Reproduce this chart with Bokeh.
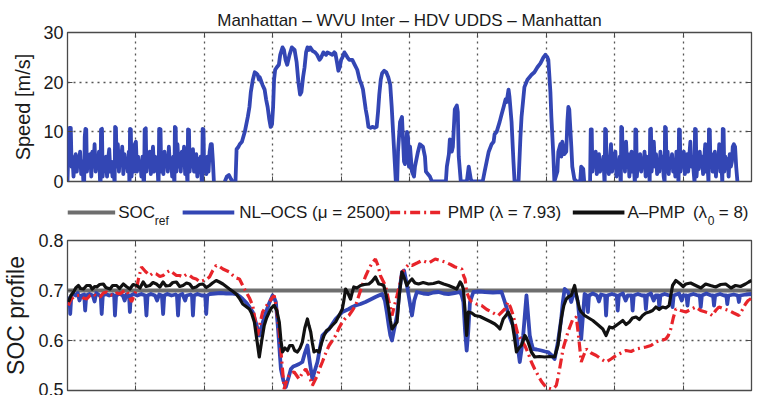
from bokeh.plotting import figure
from bokeh.models import Range1d, FixedTicker, LinearAxis
from bokeh.layouts import column
from bokeh.embed import file_html
from bokeh.resources import INLINE
from bokeh.core.properties import value

FONT = "Liberation Sans"

# ---------------- data ----------------
title_text = "Manhattan – WVU Inter – HDV UDDS – Manhattan"
x_ticks = [0, 500, 1000, 1500, 2000, 2500, 3000, 3500, 4000, 4500, 5000]
speed_ticks = [0, 10, 20, 30]
soc_ticks = [0.5, 0.6, 0.7, 0.8]
soc_ref_value = 0.7

# speed profile (time [s], speed [m/s]) by drive-cycle segment
speed_manhattan1 = [
    (0, 0), (6, 6), (14, 10.8), (24, 10.8), (30, 3), (36, 5), (44, 1), (52, 4), (60, 5.5), (68, 2), (76, 5),
    (84, 3.5), (92, 6), (100, 1.5), (108, 4), (116, 0),
    (122, 0), (126, 9), (131, 10.6), (137, 10.5), (142, 2), (150, 4.5), (158, 3), (166, 5.5), (174, 1), (182, 6),
    (190, 3), (198, 7.5), (206, 2), (214, 5), (222, 3), (230, 6), (238, 0),
    (242, 0), (245, 10.5), (252, 10.6), (257, 1), (265, 4), (273, 2.5), (281, 5), (289, 1), (297, 4.5), (305, 6.5),
    (313, 2), (321, 4), (329, 1), (337, 3.5), (343, 0),
    (345, 0), (348, 11), (354, 10.8), (360, 3), (368, 7.5), (376, 2), (384, 6), (392, 4), (400, 7), (408, 1.5),
    (416, 5.5), (424, 3), (432, 4.5), (440, 2), (448, 6), (452, 0),
    (454, 0), (457, 10.6), (463, 10.5), (468, 1), (476, 4), (484, 2), (492, 7.5), (500, 8), (508, 2), (516, 5),
    (524, 3), (532, 4), (540, 1), (548, 5), (556, 0),
    (560, 0), (564, 10.5), (572, 10.7), (577, 2), (585, 5), (593, 3), (601, 6), (609, 1.5), (617, 4.5), (625, 7),
    (633, 2), (641, 5), (649, 3), (657, 4), (663, 0),
    (666, 0), (670, 10.6), (680, 10.5), (685, 2), (693, 5), (701, 1.5), (709, 6), (717, 3.5), (725, 5), (733, 2),
    (741, 7), (749, 3), (757, 4.5), (765, 1), (773, 5), (780, 0),
    (782, 0), (785, 11), (791, 10.8), (796, 2), (804, 7.5), (812, 3), (820, 5.5), (828, 2), (836, 6), (844, 3.5),
    (852, 7), (860, 1.5), (868, 4), (876, 0),
    (878, 0), (881, 10.5), (888, 10.4), (893, 2), (901, 5), (909, 3), (917, 6.5), (925, 2), (933, 4), (941, 5.5),
    (949, 1), (957, 4.5), (965, 3), (973, 5), (981, 0),
    (984, 0), (988, 10.6), (994, 10.5), (999, 2), (1007, 4), (1015, 1.5), (1023, 5), (1031, 2), (1039, 6),
    (1047, 7.5), (1055, 7.5), (1063, 4), (1070, 0),
]
speed_wvu_inter = [
    (1150, 0), (1165, 1), (1180, 1.3), (1195, 0.5), (1205, 0), (1228, 0), (1236, 6.5), (1250, 7), (1259, 7.5),
    (1275, 8), (1296, 10), (1318, 13), (1330, 15), (1340, 18), (1355, 20.5), (1369, 22), (1380, 21.8), (1390, 21.5),
    (1400, 20.5), (1405, 21), (1412, 20.5), (1425, 19.5), (1441, 18.5), (1452, 16.5), (1463, 15), (1475, 12.5),
    (1485, 11), (1495, 11.5), (1503, 15), (1510, 20.5), (1518, 22.5), (1530, 23), (1545, 23.5), (1555, 25.5),
    (1572, 27), (1582, 26.5), (1594, 24.5), (1606, 23.5), (1623, 25.5), (1640, 27), (1660, 26.5), (1675, 24),
    (1688, 20), (1700, 17.5), (1710, 18), (1722, 21), (1733, 23), (1744, 26), (1754, 27), (1765, 26.5), (1775, 27),
    (1791, 26.3), (1810, 26), (1825, 25.5), (1842, 24.5), (1855, 25), (1870, 26), (1878, 25.8), (1890, 25.5),
    (1900, 26), (1915, 25.8), (1936, 25.5), (1950, 26), (1958, 25.8), (1970, 24), (1980, 22.3), (1990, 23),
    (2000, 24.5), (2010, 25), (2024, 26), (2035, 25.5), (2046, 25), (2060, 24.5), (2082, 24.5), (2100, 23.5),
    (2118, 22.5), (2135, 20.5), (2150, 19.5), (2160, 18.5), (2170, 16.5), (2180, 14.5), (2190, 13), (2200, 11),
    (2215, 10.8), (2228, 11), (2245, 10.8), (2260, 11), (2270, 14), (2279, 17.5), (2290, 20.5), (2300, 21.8),
    (2315, 22.3), (2330, 22), (2345, 21), (2359, 19.5), (2370, 15), (2380, 10), (2392, 4), (2400, 0),
]
speed_hdv_udds = [
    (2410, 0), (2416, 6), (2431, 12), (2445, 13), (2460, 4), (2467, 3.5), (2482, 10), (2489, 9), (2496, 3),
    (2504, 7), (2518, 2), (2533, 1), (2540, 3), (2562, 6), (2576, 7.5), (2598, 7), (2613, 5), (2620, 2),
    (2649, 1), (2664, 0), (2766, 0), (2773, 3), (2788, 5.5), (2795, 8.5), (2809, 6), (2817, 7), (2831, 14.5),
    (2846, 15.3), (2853, 14), (2860, 5), (2875, 0), (2919, 0), (2933, 3), (2948, 0.5), (2955, 0), (3035, 0),
    (3049, 2), (3064, 4), (3079, 6), (3100, 7.5), (3115, 8), (3122, 9.5), (3137, 10), (3159, 12), (3173, 13.5),
    (3188, 15), (3202, 16.5), (3210, 16), (3224, 18.5), (3231, 17), (3246, 12), (3260, 4), (3268, 0), (3297, 0),
    (3311, 9), (3319, 13), (3333, 17), (3340, 19), (3362, 20.5), (3392, 21.5), (3413, 22), (3435, 23),
    (3457, 23.8), (3479, 25), (3493, 25.5), (3508, 25), (3515, 24.5), (3530, 18), (3537, 13), (3552, 5),
    (3559, 0), (3581, 2), (3588, 6), (3603, 7.5), (3610, 5), (3617, 8), (3632, 5.5), (3646, 6), (3654, 12),
    (3661, 15), (3668, 14.5), (3683, 7), (3690, 3), (3705, 0.5), (3719, 0), (3748, 0), (3755, 3), (3770, 2.5),
    (3777, 0),
]
speed_manhattan2 = [
    (3820, 0), (3825, 10.5), (3832, 10.5), (3837, 2), (3845, 5), (3853, 3), (3861, 6), (3869, 1.5), (3877, 4.5),
    (3885, 5.5), (3893, 2), (3901, 4), (3909, 3), (3917, 5), (3925, 0),
    (3927, 0), (3930, 10.6), (3936, 10.4), (3941, 2), (3949, 5), (3957, 1.5), (3965, 4.5), (3973, 7.5), (3981, 2),
    (3989, 5.5), (3997, 3), (4005, 6), (4013, 1), (4021, 4), (4029, 3), (4037, 5), (4043, 0),
    (4045, 0), (4048, 11), (4054, 10.8), (4059, 3), (4067, 5), (4075, 2), (4083, 8), (4091, 3), (4099, 5.5),
    (4107, 1), (4115, 4), (4123, 6), (4131, 2), (4139, 4.5), (4146, 0),
    (4148, 0), (4151, 10.5), (4157, 10.4), (4162, 1), (4170, 4), (4178, 2.5), (4186, 5.5), (4194, 2), (4202, 4.5),
    (4210, 3), (4218, 6), (4226, 1), (4234, 5), (4242, 3), (4250, 4), (4255, 0),
    (4256, 0), (4259, 10.5), (4265, 10.6), (4270, 2), (4278, 5), (4286, 8), (4294, 3), (4302, 5.5), (4310, 1.5),
    (4318, 4), (4326, 2), (4334, 6), (4342, 3), (4350, 5), (4358, 1), (4364, 0),
    (4365, 0), (4368, 11), (4374, 10.8), (4379, 2), (4387, 6), (4395, 1.5), (4403, 4.5), (4411, 3), (4419, 5.5),
    (4427, 2), (4435, 4), (4443, 1), (4451, 6), (4459, 3), (4466, 0),
    (4467, 0), (4470, 10.5), (4476, 10.4), (4481, 2), (4489, 5), (4497, 3), (4505, 6), (4513, 1.5), (4521, 4),
    (4529, 5.5), (4537, 2), (4545, 5), (4553, 8), (4561, 3), (4569, 5), (4577, 2), (4583, 0),
    (4584, 0), (4587, 10.6), (4593, 10.5), (4598, 1), (4606, 4), (4614, 2.5), (4622, 6), (4630, 3), (4638, 5),
    (4646, 1.5), (4654, 4.5), (4662, 7.5), (4670, 2), (4678, 4), (4685, 0),
    (4686, 0), (4689, 10.5), (4695, 10.4), (4700, 3), (4708, 5.5), (4716, 2), (4724, 4.5), (4732, 6), (4740, 1),
    (4748, 5), (4756, 3), (4764, 7.5), (4772, 2), (4780, 4), (4786, 0),
    (4787, 0), (4790, 10.6), (4796, 10.5), (4801, 2), (4809, 5), (4817, 3), (4825, 4.5), (4833, 1), (4841, 5.5),
    (4849, 3), (4857, 4), (4863, 7), (4871, 7.5), (4880, 7), (4888, 3), (4897, 0),
]

# SOC profiles (time [s], SOC [-])
soc_nlocs = [
    (7, 0.667), (15, 0.685), (20, 0.653), (28, 0.69), (45, 0.693), (60, 0.69), (75, 0.695), (88, 0.68),
    (100, 0.69), (122, 0.692), (129, 0.66), (137, 0.69), (160, 0.693), (185, 0.69), (198, 0.678), (210, 0.695),
    (235, 0.69), (243, 0.688), (250, 0.653), (258, 0.69), (280, 0.693), (305, 0.69), (330, 0.692), (341, 0.69),
    (347, 0.65), (355, 0.69), (380, 0.694), (405, 0.69), (418, 0.68), (430, 0.692), (450, 0.69), (456, 0.657),
    (463, 0.69), (485, 0.693), (510, 0.69), (540, 0.693), (568, 0.69), (577, 0.65), (585, 0.69), (610, 0.693),
    (640, 0.69), (655, 0.68), (670, 0.692), (690, 0.69), (699, 0.653), (707, 0.69), (730, 0.693), (760, 0.69),
    (790, 0.692), (800, 0.69), (808, 0.65), (816, 0.69), (840, 0.693), (860, 0.68), (870, 0.69), (900, 0.692),
    (910, 0.69), (917, 0.65), (925, 0.69), (950, 0.693), (980, 0.69), (1007, 0.69), (1014, 0.653), (1022, 0.69),
    (1040, 0.693), (1080, 0.694), (1120, 0.695), (1160, 0.694), (1200, 0.694), (1240, 0.692), (1260, 0.688),
    (1281, 0.683), (1310, 0.675), (1330, 0.667), (1354, 0.657), (1378, 0.635), (1402, 0.61), (1426, 0.635),
    (1451, 0.657), (1475, 0.675), (1499, 0.69), (1511, 0.685), (1523, 0.677), (1540, 0.62), (1560, 0.543),
    (1578, 0.52), (1596, 0.507), (1615, 0.525), (1633, 0.543), (1650, 0.548), (1669, 0.55), (1693, 0.553),
    (1717, 0.557), (1735, 0.575), (1754, 0.59), (1772, 0.555), (1790, 0.523), (1808, 0.54), (1827, 0.557),
    (1845, 0.585), (1863, 0.61), (1888, 0.617), (1912, 0.623), (1936, 0.633), (1960, 0.643), (1985, 0.65),
    (2009, 0.657), (2033, 0.66), (2057, 0.663), (2082, 0.667), (2106, 0.67), (2142, 0.673), (2178, 0.677),
    (2215, 0.682), (2251, 0.687), (2275, 0.69), (2300, 0.693), (2320, 0.68), (2335, 0.655), (2348, 0.63),
    (2360, 0.61), (2372, 0.6), (2390, 0.625), (2409, 0.65), (2427, 0.7), (2445, 0.737), (2460, 0.74),
    (2475, 0.72), (2494, 0.69), (2506, 0.67), (2518, 0.65), (2535, 0.68), (2554, 0.697), (2600, 0.694),
    (2639, 0.693), (2675, 0.696), (2712, 0.697), (2750, 0.694), (2785, 0.693), (2830, 0.695), (2870, 0.697),
    (2882, 0.69), (2894, 0.677), (2906, 0.62), (2918, 0.58), (2930, 0.62), (2942, 0.677), (2967, 0.697),
    (3010, 0.698), (3052, 0.697), (3110, 0.696), (3173, 0.697), (3197, 0.677), (3221, 0.655), (3246, 0.637),
    (3265, 0.625), (3282, 0.61), (3295, 0.58), (3306, 0.557), (3318, 0.58), (3331, 0.61), (3343, 0.65),
    (3355, 0.69), (3367, 0.65), (3379, 0.61), (3391, 0.595), (3403, 0.583), (3430, 0.582), (3464, 0.58),
    (3490, 0.578), (3512, 0.577), (3540, 0.57), (3561, 0.563), (3573, 0.58), (3585, 0.597), (3597, 0.62),
    (3609, 0.643), (3620, 0.675), (3634, 0.703), (3658, 0.697), (3670, 0.688), (3682, 0.677), (3695, 0.69),
    (3707, 0.7), (3719, 0.69), (3731, 0.677), (3743, 0.64), (3755, 0.603), (3768, 0.65), (3780, 0.693),
    (3797, 0.69), (3804, 0.657), (3812, 0.69), (3840, 0.694), (3870, 0.69), (3885, 0.678), (3900, 0.692),
    (3930, 0.69), (3937, 0.65), (3945, 0.69), (3980, 0.693), (4015, 0.69), (4022, 0.66), (4030, 0.69),
    (4060, 0.694), (4080, 0.68), (4095, 0.69), (4124, 0.69), (4131, 0.66), (4139, 0.69), (4170, 0.693),
    (4200, 0.69), (4221, 0.69), (4228, 0.663), (4236, 0.69), (4265, 0.694), (4285, 0.68), (4300, 0.69),
    (4319, 0.69), (4326, 0.667), (4334, 0.69), (4365, 0.693), (4400, 0.69), (4416, 0.69), (4423, 0.667),
    (4431, 0.69), (4470, 0.694), (4490, 0.68), (4500, 0.69), (4525, 0.69), (4532, 0.67), (4540, 0.69),
    (4575, 0.693), (4610, 0.69), (4622, 0.69), (4629, 0.667), (4637, 0.69), (4670, 0.694), (4705, 0.69),
    (4719, 0.69), (4726, 0.67), (4734, 0.69), (4770, 0.693), (4800, 0.69), (4816, 0.69), (4823, 0.673),
    (4831, 0.69), (4870, 0.692), (4900, 0.69), (4908, 0.677), (4916, 0.69), (4960, 0.692), (5000, 0.693),
]
soc_pmp = [
    (7, 0.67), (25, 0.682), (44, 0.687), (68, 0.69), (92, 0.69), (115, 0.685), (141, 0.683), (165, 0.69),
    (189, 0.693), (214, 0.688), (238, 0.687), (262, 0.695), (286, 0.697), (310, 0.692), (335, 0.69), (360, 0.695),
    (383, 0.693), (408, 0.698), (432, 0.7), (450, 0.69), (468, 0.677), (487, 0.69), (505, 0.703), (520, 0.725),
    (541, 0.747), (570, 0.738), (602, 0.73), (625, 0.735), (650, 0.733), (675, 0.728), (699, 0.73), (723, 0.736),
    (747, 0.74), (772, 0.735), (796, 0.73), (820, 0.73), (844, 0.727), (869, 0.732), (893, 0.73), (917, 0.725),
    (941, 0.723), (965, 0.718), (990, 0.72), (1014, 0.722), (1038, 0.727), (1062, 0.74), (1087, 0.75),
    (1110, 0.748), (1136, 0.743), (1160, 0.74), (1184, 0.737), (1210, 0.73), (1233, 0.725), (1257, 0.723),
    (1281, 0.71), (1305, 0.697), (1330, 0.685), (1354, 0.67), (1372, 0.64), (1390, 0.61), (1408, 0.635),
    (1426, 0.657), (1450, 0.668), (1475, 0.677), (1495, 0.685), (1511, 0.69), (1530, 0.66), (1548, 0.617),
    (1566, 0.56), (1584, 0.503), (1602, 0.52), (1620, 0.53), (1640, 0.535), (1657, 0.537), (1675, 0.53),
    (1693, 0.523), (1717, 0.535), (1742, 0.543), (1766, 0.53), (1790, 0.51), (1808, 0.52), (1827, 0.53),
    (1845, 0.545), (1863, 0.557), (1888, 0.575), (1912, 0.59), (1936, 0.6), (1960, 0.61), (1985, 0.625),
    (2009, 0.637), (2033, 0.645), (2057, 0.65), (2082, 0.66), (2106, 0.67), (2130, 0.69), (2154, 0.71),
    (2178, 0.728), (2203, 0.743), (2227, 0.755), (2251, 0.763), (2270, 0.75), (2287, 0.73), (2305, 0.72),
    (2324, 0.71), (2348, 0.68), (2372, 0.65), (2390, 0.67), (2409, 0.69), (2427, 0.71), (2445, 0.735),
    (2470, 0.745), (2494, 0.752), (2518, 0.75), (2555, 0.755), (2591, 0.76), (2640, 0.755), (2688, 0.763),
    (2725, 0.76), (2760, 0.757), (2800, 0.752), (2833, 0.747), (2860, 0.745), (2882, 0.743), (2895, 0.73),
    (2906, 0.723), (2918, 0.697), (2935, 0.685), (2954, 0.677), (2990, 0.673), (3027, 0.67), (3065, 0.662),
    (3100, 0.657), (3125, 0.653), (3149, 0.65), (3175, 0.657), (3197, 0.663), (3221, 0.677), (3240, 0.665),
    (3258, 0.65), (3276, 0.63), (3294, 0.61), (3320, 0.6), (3343, 0.59), (3367, 0.575), (3391, 0.557),
    (3415, 0.543), (3440, 0.53), (3465, 0.518), (3488, 0.51), (3512, 0.505), (3537, 0.503), (3555, 0.505),
    (3573, 0.51), (3585, 0.525), (3597, 0.543), (3610, 0.563), (3622, 0.583), (3640, 0.6), (3658, 0.617),
    (3676, 0.63), (3694, 0.643), (3719, 0.647), (3731, 0.62), (3743, 0.59), (3755, 0.557), (3773, 0.57),
    (3792, 0.583), (3828, 0.575), (3865, 0.57), (3900, 0.563), (3937, 0.557), (3973, 0.563), (4010, 0.57),
    (4046, 0.575), (4083, 0.58), (4120, 0.578), (4156, 0.583), (4192, 0.585), (4228, 0.587), (4265, 0.59),
    (4301, 0.597), (4337, 0.6), (4374, 0.603), (4392, 0.61), (4410, 0.623), (4428, 0.645), (4447, 0.663),
    (4483, 0.66), (4520, 0.657), (4556, 0.662), (4592, 0.667), (4628, 0.66), (4665, 0.657), (4690, 0.655),
    (4714, 0.65), (4738, 0.66), (4762, 0.667), (4800, 0.663), (4835, 0.66), (4870, 0.655), (4908, 0.65),
    (4930, 0.66), (4956, 0.673), (4975, 0.68), (4993, 0.683), (5000, 0.685),
]
soc_apmp = [
    (7, 0.677), (25, 0.69), (44, 0.697), (60, 0.705), (80, 0.71), (95, 0.704), (117, 0.703), (140, 0.71),
    (165, 0.71), (180, 0.703), (200, 0.708), (214, 0.707), (235, 0.712), (262, 0.713), (280, 0.706), (311, 0.703),
    (330, 0.71), (359, 0.71), (380, 0.704), (408, 0.713), (430, 0.708), (456, 0.703), (480, 0.712), (505, 0.71),
    (530, 0.705), (553, 0.717), (575, 0.708), (602, 0.71), (625, 0.716), (650, 0.713), (675, 0.707), (699, 0.717),
    (720, 0.709), (747, 0.71), (770, 0.716), (796, 0.717), (820, 0.708), (844, 0.71), (870, 0.715), (893, 0.713),
    (915, 0.705), (941, 0.707), (965, 0.712), (990, 0.713), (1015, 0.706), (1038, 0.71), (1060, 0.715),
    (1087, 0.72), (1110, 0.717), (1136, 0.713), (1160, 0.708), (1184, 0.703), (1210, 0.698), (1233, 0.693),
    (1255, 0.685), (1281, 0.673), (1305, 0.668), (1329, 0.663), (1345, 0.655), (1366, 0.637), (1385, 0.6),
    (1402, 0.567), (1420, 0.6), (1438, 0.63), (1455, 0.645), (1475, 0.657), (1490, 0.665), (1511, 0.67),
    (1530, 0.66), (1548, 0.637), (1560, 0.6), (1572, 0.577), (1590, 0.585), (1608, 0.58), (1625, 0.59),
    (1645, 0.59), (1660, 0.58), (1681, 0.577), (1700, 0.585), (1717, 0.597), (1735, 0.625), (1754, 0.643),
    (1765, 0.63), (1778, 0.617), (1790, 0.595), (1802, 0.577), (1820, 0.58), (1839, 0.577), (1857, 0.595),
    (1875, 0.61), (1895, 0.62), (1912, 0.623), (1935, 0.63), (1960, 0.637), (1985, 0.65), (2009, 0.663),
    (2020, 0.68), (2033, 0.703), (2050, 0.695), (2069, 0.683), (2080, 0.695), (2093, 0.707), (2115, 0.705),
    (2142, 0.71), (2170, 0.712), (2203, 0.713), (2225, 0.718), (2251, 0.727), (2263, 0.72), (2275, 0.713),
    (2295, 0.712), (2312, 0.71), (2330, 0.69), (2348, 0.663), (2360, 0.64), (2372, 0.623), (2390, 0.63),
    (2409, 0.637), (2425, 0.69), (2445, 0.737), (2462, 0.725), (2481, 0.71), (2500, 0.718), (2518, 0.723),
    (2540, 0.715), (2566, 0.713), (2600, 0.716), (2639, 0.713), (2675, 0.714), (2712, 0.717), (2750, 0.713),
    (2785, 0.71), (2820, 0.706), (2845, 0.703), (2858, 0.71), (2870, 0.717), (2882, 0.712), (2894, 0.703),
    (2906, 0.66), (2918, 0.61), (2930, 0.657), (2955, 0.655), (2979, 0.65), (3015, 0.648), (3052, 0.643),
    (3090, 0.638), (3124, 0.633), (3145, 0.628), (3161, 0.623), (3185, 0.643), (3205, 0.65), (3221, 0.657),
    (3246, 0.643), (3265, 0.61), (3282, 0.577), (3300, 0.585), (3318, 0.59), (3343, 0.61), (3355, 0.605),
    (3367, 0.597), (3391, 0.577), (3415, 0.567), (3450, 0.568), (3488, 0.567), (3525, 0.568), (3561, 0.567),
    (3585, 0.59), (3609, 0.643), (3628, 0.67), (3646, 0.683), (3665, 0.688), (3682, 0.69), (3707, 0.71),
    (3731, 0.677), (3743, 0.663), (3755, 0.657), (3780, 0.65), (3810, 0.645), (3840, 0.64), (3875, 0.632),
    (3913, 0.623), (3937, 0.61), (3962, 0.627), (3985, 0.625), (4010, 0.63), (4035, 0.635), (4059, 0.64),
    (4083, 0.632), (4107, 0.637), (4130, 0.645), (4156, 0.647), (4180, 0.642), (4204, 0.65), (4228, 0.655),
    (4253, 0.657), (4277, 0.66), (4301, 0.667), (4325, 0.662), (4350, 0.667), (4374, 0.665), (4398, 0.67),
    (4410, 0.69), (4423, 0.71), (4447, 0.72), (4480, 0.713), (4500, 0.708), (4520, 0.713), (4555, 0.715),
    (4592, 0.71), (4630, 0.705), (4665, 0.713), (4700, 0.71), (4738, 0.707), (4775, 0.712), (4811, 0.713),
    (4850, 0.705), (4883, 0.71), (4920, 0.708), (4956, 0.713), (4980, 0.717), (5000, 0.72),
]

# ---------------- styling ----------------
BLUE = "#3346b4"
RED = "#e8242a"
BLACK = "#111111"
GRAY = "#6e6e6e"
FRAME = "#4a4a4a"


def silent_axis(ticks):
    return LinearAxis(ticker=FixedTicker(ticks=ticks), major_label_text_font_size="1px",
                      major_label_text_color=None, major_label_standoff=0, major_tick_in=5,
                      major_tick_out=0, minor_tick_line_color=None, axis_line_color=None,
                      major_tick_line_color=FRAME)


def make_axes_fig(height, yr, yticks, ylabel, label_size, top, bottom):
    p = figure(width=762, height=height, x_range=Range1d(0, 5000), y_range=Range1d(*yr),
               output_backend="svg", toolbar_location=None, x_axis_location=None,
               min_border_left=64, min_border_right=11, min_border_top=top, min_border_bottom=bottom,
               background_fill_color="white", border_fill_color="white",
               outline_line_color=FRAME, outline_line_width=1.3)
    p.yaxis.ticker = FixedTicker(ticks=yticks)
    p.yaxis.major_label_text_font = FONT
    p.yaxis.major_label_text_font_size = "18px"
    p.yaxis.major_label_text_color = "#1a1a1a"
    p.yaxis.major_label_standoff = 4
    p.yaxis.axis_label = ylabel
    p.yaxis.axis_label_text_font = FONT
    p.yaxis.axis_label_text_font_size = label_size
    p.yaxis.axis_label_text_font_style = "normal"
    p.yaxis.axis_label_text_color = "#1a1a1a"
    p.yaxis.axis_label_standoff = 6
    p.yaxis.major_tick_in = 5
    p.yaxis.major_tick_out = 0
    p.yaxis.minor_tick_line_color = None
    p.yaxis.axis_line_color = None
    p.yaxis.major_tick_line_color = FRAME
    # inward tick marks on the other three sides
    p.add_layout(silent_axis(x_ticks), "below")
    p.add_layout(silent_axis(x_ticks), "above")
    p.add_layout(silent_axis(yticks), "right")
    # dotted grid
    p.xgrid.ticker = FixedTicker(ticks=x_ticks)
    p.ygrid.ticker = FixedTicker(ticks=yticks)
    for g in (p.xgrid[0], p.ygrid[0]):
        g.grid_line_color = "#555555"
        g.grid_line_dash = "2 4"
        g.grid_line_width = 1.3
    return p


# ---------------- top: speed ----------------
top = make_axes_fig(195, (0, 30), speed_ticks, "Speed [m/s]", "20px", 32, 14)
top.title.text = title_text
top.title.text_font = FONT
top.title.text_font_size = "17px"
top.title.text_font_style = "normal"
top.title.text_color = "#1a1a1a"
top.title.align = "center"
top.title.standoff = 6

for seg in (speed_manhattan1, speed_wvu_inter, speed_hdv_udds, speed_manhattan2):
    top.line([t for t, _ in seg], [v for _, v in seg], line_color=BLUE, line_width=3.8, line_join="round")

# ---------------- legend strip (pixel-like coordinates) ----------------
leg = figure(width=762, height=34, x_range=Range1d(64, 753), y_range=Range1d(0, 34),
             output_backend="svg", toolbar_location=None, min_border_left=0, min_border_right=0,
             min_border_top=0, min_border_bottom=0, outline_line_color=None,
             x_axis_location=None, y_axis_location=None,
             background_fill_color="white", border_fill_color="white")
leg.grid.visible = False
LY = 17
leg.line([64, 112], [LY, LY], line_color=GRAY, line_width=4)
leg.line([180, 232], [LY, LY], line_color=BLUE, line_width=4)
leg.line([389, 443], [LY, LY], line_color=RED, line_width=3.5, line_dash="10 4 2 4")
leg.line([573, 625], [LY, LY], line_color=BLACK, line_width=4)
leg.text(x=[115, 237, 447, 628, 694, 720], y=[LY] * 6,
         text=["SOC", "NL–OCS (μ = 2500)", "PMP (λ = 7.93)", "A–PMP", "(λ", "= 8)"],
         text_font=value(FONT), text_font_size="17px", text_baseline="middle", text_color="#1a1a1a")
leg.text(x=[152, 709], y=[9, 9], text=["ref", "0"],
         text_font=value(FONT), text_font_size="12px", text_baseline="middle", text_color="#1a1a1a")

# ---------------- bottom: SOC ----------------
bot = make_axes_fig(166, (0.5, 0.8), soc_ticks, "SOC profile", "23px", 11, 5)
bot.line([0, 5000], [soc_ref_value, soc_ref_value], line_color=GRAY, line_width=3.8)
bot.line([t for t, _ in soc_nlocs], [v for _, v in soc_nlocs], line_color=BLUE, line_width=3.8, line_join="round")
bot.line([t for t, _ in soc_pmp], [v for _, v in soc_pmp], line_color=RED, line_width=3.2,
         line_dash="10 4 2 4")
bot.line([t for t, _ in soc_apmp], [v for _, v in soc_apmp], line_color=BLACK, line_width=3.2, line_join="round")

layout = column(top, leg, bot, spacing=0)
open("out.html", "w").write(file_html(layout, INLINE))
